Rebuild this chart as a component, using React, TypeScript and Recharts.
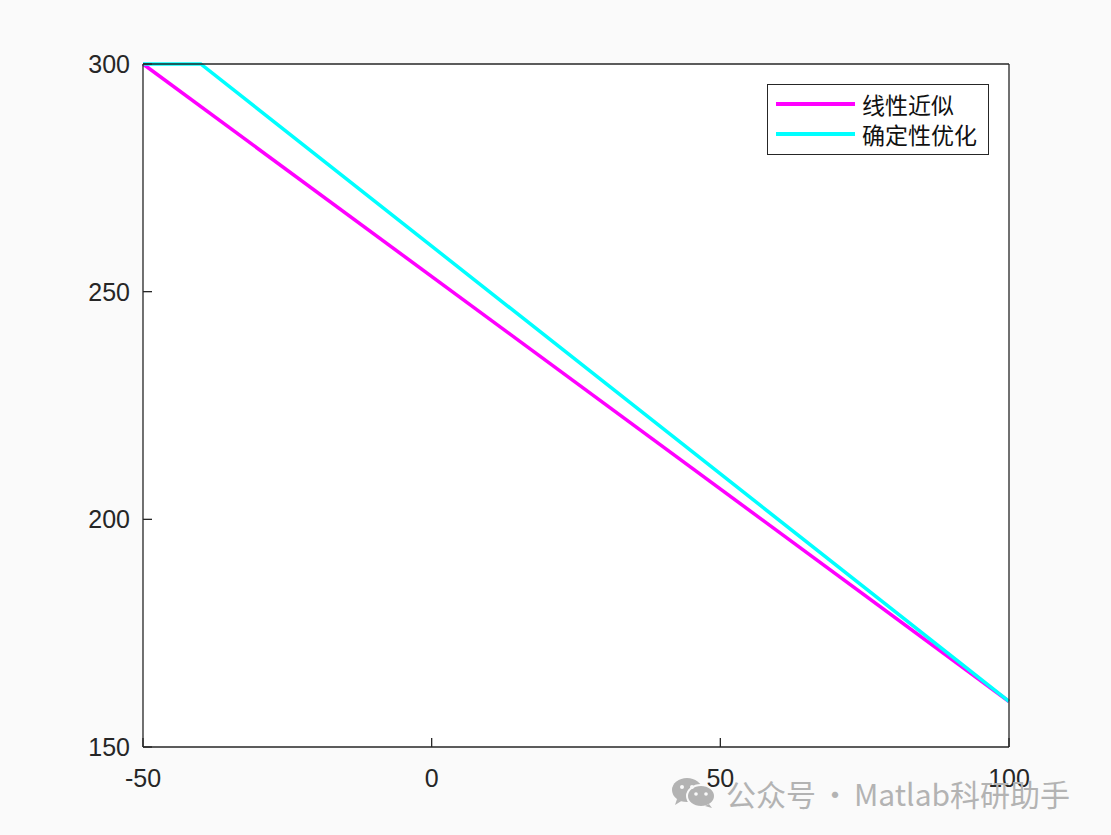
import React from 'react';
import {
  LineChart,
  Line,
  XAxis,
  YAxis,
  CartesianGrid,
} from 'recharts';

// series
const linearX = [-50, 100];
const linearY = [300, 160];
const optX = [-50, -40, 100];
const optY = [300, 300, 160];

const xTicks = [-50, 0, 50, 100];
const yTicks = [150, 200, 250, 300];
const seriesNames = ['线性近似', '确定性优化'];
const seriesColors = ['#ff00ff', '#00ffff'];

const linearData = linearX.map((x, i) => ({ x, y: linearY[i] }));
const optData = optX.map((x, i) => ({ x, y: optY[i] }));

const AXIS = '#262626';
const TICK_LEN = 9;
const tickFont = { fontFamily: 'Liberation Sans, Arial, sans-serif', fontSize: 25, fill: AXIS };

const BottomTick = ({ x, y, payload }: any) => (
  <g>
    <line x1={x} x2={x} y1={y} y2={y - TICK_LEN} stroke={AXIS} strokeWidth={1.3} />
    <text x={x} y={y + 31} textAnchor="middle" dominantBaseline="central" {...tickFont}>
      {payload.value}
    </text>
  </g>
);

const TopTick = ({ x, y }: any) => (
  <line x1={x} x2={x} y1={y} y2={y + TICK_LEN} stroke={AXIS} strokeWidth={1.3} />
);

const LeftTick = ({ x, y, payload }: any) => (
  <g>
    <line x1={x} x2={x + TICK_LEN} y1={y} y2={y} stroke={AXIS} strokeWidth={1.3} />
    <text x={x - 13} y={y} textAnchor="end" dominantBaseline="central" {...tickFont}>
      {payload.value}
    </text>
  </g>
);

const RightTick = ({ x, y }: any) => (
  <line x1={x} x2={x - TICK_LEN} y1={y} y2={y} stroke={AXIS} strokeWidth={1.3} />
);

const LegendBox = () => (
  <div
    style={{
      position: 'absolute',
      left: 767,
      top: 84,
      width: 222,
      height: 71,
      border: `1.3px solid ${AXIS}`,
      background: '#fff',
      boxSizing: 'border-box',
      padding: '4px 0 0 8px',
    }}
  >
    {seriesNames.map((name, i) => (
      <div key={name} style={{ display: 'flex', alignItems: 'center', height: 30 }}>
        <div style={{ width: 79, height: 3.5, background: seriesColors[i], marginRight: 7 }} />
        <span style={{ fontFamily: 'Noto Sans CJK SC', fontSize: 23, color: '#111', lineHeight: '28px', whiteSpace: 'nowrap' }}>
          {name}
        </span>
      </div>
    ))}
  </div>
);

const WeChatIcon = () => (
  <svg width={46} height={30} viewBox="0 0 46 30">
    <ellipse cx={16} cy={12} rx={15} ry={12} fill="#b3b3b3" />
    <path d="M6 21 L4 27 L12 22 Z" fill="#b3b3b3" />
    <ellipse cx={30} cy={18} rx={14} ry={11} fill="#b3b3b3" stroke="#fafafa" strokeWidth={2} />
    <path d="M38 26 L41 30 L34 28 Z" fill="#b3b3b3" />
    <circle cx={11} cy={9} r={2} fill="#fafafa" />
    <circle cx={21} cy={9} r={2} fill="#fafafa" />
    <circle cx={25} cy={16} r={1.8} fill="#fafafa" />
    <circle cx={35} cy={16} r={1.8} fill="#fafafa" />
  </svg>
);

export default function App() {
  return (
    <div style={{ position: 'absolute', left: 0, top: 0, width: 1111, height: 835, background: '#fafafa' }}>
      <LineChart width={1111} height={835} margin={{ top: 63, right: 101, bottom: 87, left: 142 }}>
        <CartesianGrid horizontal={false} vertical={false} fill="#ffffff" xAxisId="bottom" yAxisId="left" />
        <XAxis
          xAxisId="bottom"
          dataKey="x"
          type="number"
          domain={[-50, 100]}
          ticks={xTicks}
          height={1}
          tickSize={0}
          tickMargin={0}
          tickLine={false}
          axisLine={{ stroke: AXIS, strokeWidth: 1.3 }}
          tick={<BottomTick />}
          interval={0}
        />
        <XAxis
          xAxisId="top"
          orientation="top"
          dataKey="x"
          type="number"
          domain={[-50, 100]}
          ticks={xTicks}
          height={1}
          tickSize={0}
          tickMargin={0}
          tickLine={false}
          axisLine={{ stroke: AXIS, strokeWidth: 1.3 }}
          tick={<TopTick />}
          interval={0}
        />
        <YAxis
          yAxisId="left"
          type="number"
          domain={[150, 300]}
          ticks={yTicks}
          width={1}
          tickSize={0}
          tickMargin={0}
          tickLine={false}
          axisLine={{ stroke: AXIS, strokeWidth: 1.3 }}
          tick={<LeftTick />}
          interval={0}
        />
        <YAxis
          yAxisId="right"
          orientation="right"
          type="number"
          domain={[150, 300]}
          ticks={yTicks}
          width={1}
          tickSize={0}
          tickMargin={0}
          tickLine={false}
          axisLine={{ stroke: AXIS, strokeWidth: 1.3 }}
          tick={<RightTick />}
          interval={0}
        />
        <Line
          name={seriesNames[0]}
          data={linearData}
          dataKey="y"
          xAxisId="bottom"
          yAxisId="left"
          stroke={seriesColors[0]}
          strokeWidth={3.5}
          dot={false}
          isAnimationActive={false}
        />
        <Line
          name={seriesNames[1]}
          data={optData}
          dataKey="y"
          xAxisId="bottom"
          yAxisId="left"
          stroke={seriesColors[1]}
          strokeWidth={3.5}
          dot={false}
          isAnimationActive={false}
        />
      </LineChart>
      <LegendBox />
      <div
        style={{
          position: 'absolute',
          left: 671,
          top: 775,
          display: 'flex',
          alignItems: 'center',
          gap: 9,
          color: '#b3b3b3',
          fontFamily: 'Noto Sans CJK SC',
          fontSize: 30,
          lineHeight: '36px',
          whiteSpace: 'nowrap',
        }}
      >
        <WeChatIcon />
        <span>
          公众号<span style={{ margin: '0 4px' }}>·</span>Matlab科研助手
        </span>
      </div>
    </div>
  );
}
